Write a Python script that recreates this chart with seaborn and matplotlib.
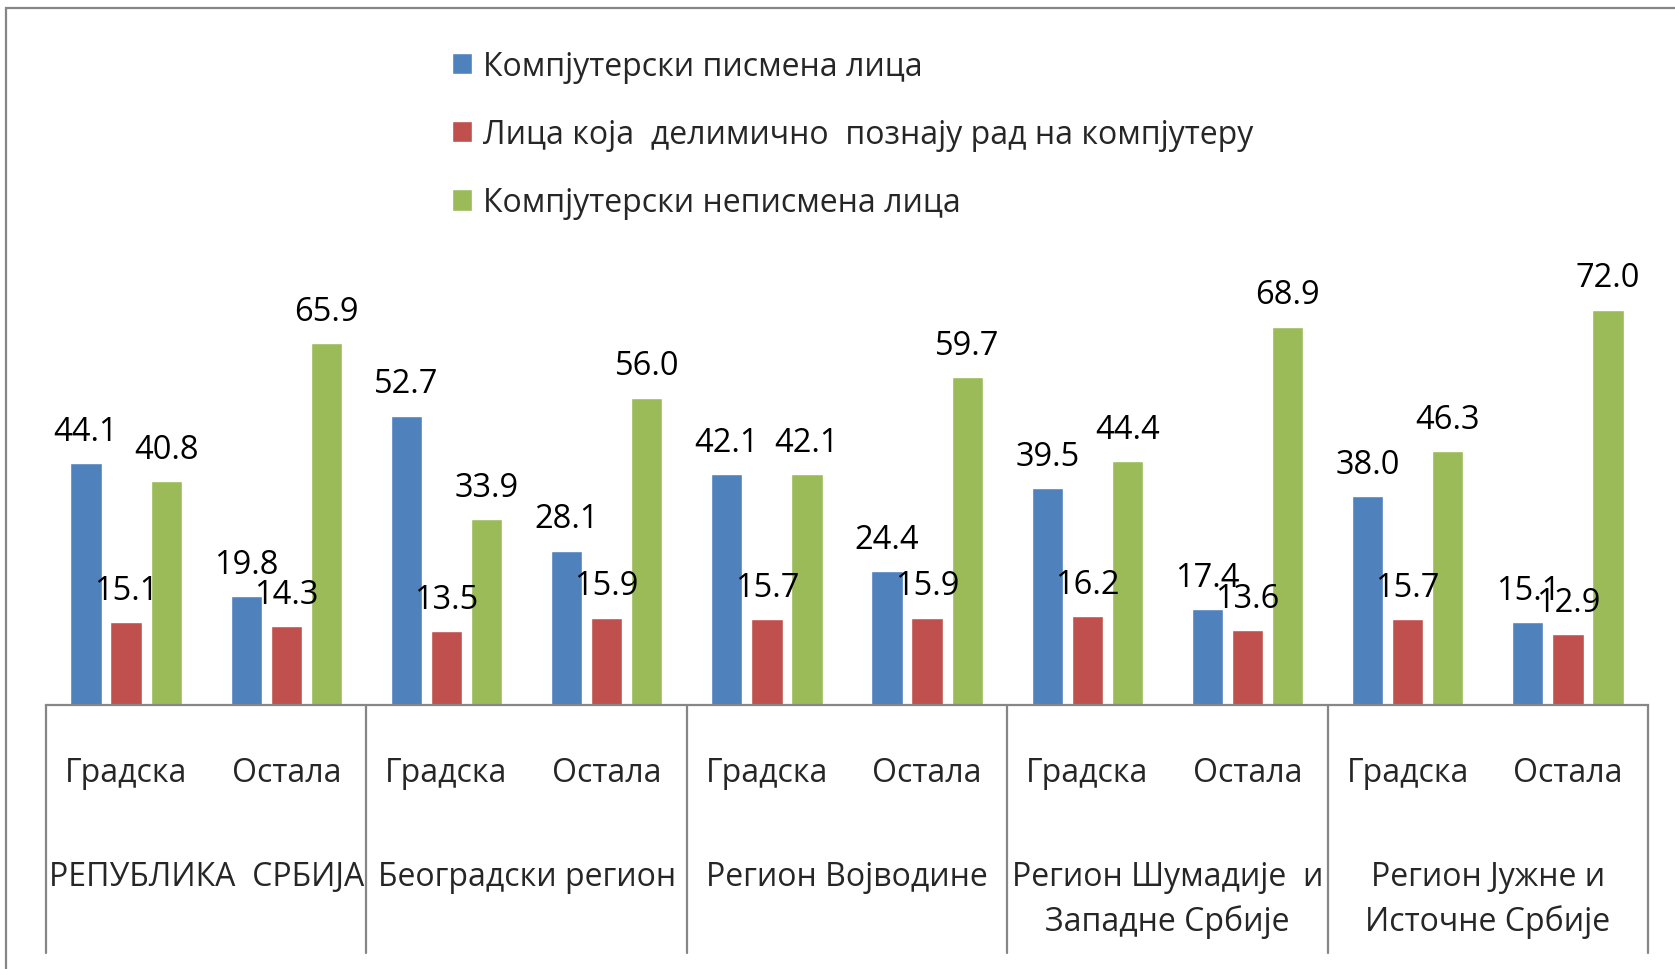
import matplotlib
matplotlib.use("Agg")
import matplotlib.pyplot as plt
import matplotlib.transforms as mtransforms
from matplotlib.patches import Rectangle
import seaborn as sns
import pandas as pd

# ---- data ----
groups = ["РЕПУБЛИКА  СРБИЈА", "Београдски регион", "Регион Војводине",
          "Регион Шумадије  и\nЗападне Србије", "Регион Јужне и\nИсточне Србије"]
types = ["Градска", "Остала"]
series = ["Компјутерски писмена лица",
          "Лица која  делимично  познају рад на компјутеру",
          "Компјутерски неписмена лица"]
literate = [44.1, 19.8, 52.7, 28.1, 42.1, 24.4, 39.5, 17.4, 38.0, 15.1]
partial = [15.1, 14.3, 13.5, 15.9, 15.7, 15.9, 16.2, 13.6, 15.7, 12.9]
illiterate = [40.8, 65.9, 33.9, 56.0, 42.1, 59.7, 44.4, 68.9, 46.3, 72.0]
colors = ["#4F81BD", "#C0504D", "#9BBB59"]

# ---- build long table ----
keys = [f"{g}|{t}" for g in groups for t in types]
rows = []
for s, vals in zip(series, [literate, partial, illiterate]):
    for k, v in zip(keys, vals):
        rows.append({"key": k, "series": s, "value": v})
df = pd.DataFrame(rows)

sns.set_theme(style="white")
plt.rcParams["font.family"] = ["Open Sans", "DejaVu Sans"]

fig = plt.figure(figsize=(16.75, 9.70), dpi=100)
ax = fig.add_axes([46 / 1675, 264 / 970, 1602 / 1675, 677 / 970])

sns.barplot(data=df, x="key", y="value", hue="series", order=keys,
            hue_order=series, palette=dict(zip(series, colors)),
            width=0.75, gap=0.22, errorbar=None, ax=ax, saturation=1)

ax.set_ylim(0, 123.3)
ax.set_xlim(-0.5, len(keys) - 0.5)
ax.set_xlabel("")
ax.set_ylabel("")
ax.set_yticks([])
for sp in ["top", "right", "left"]:
    ax.spines[sp].set_visible(False)
ax.spines["bottom"].set_color("#868686")
ax.spines["bottom"].set_linewidth(1.6)

# value labels
for cont in ax.containers:
    ax.bar_label(cont, fmt="%.1f", padding=11, fontsize=23.5, color="black")

# category tick labels
ax.set_xticks(range(len(keys)))
ax.set_xticklabels([t for g in groups for t in types], fontsize=23)
ax.tick_params(axis="x", length=0, pad=36.5)

# group dividers and labels
trans = mtransforms.blended_transform_factory(ax.transData, ax.transAxes)
n_t = len(types)
for i in range(len(groups) + 1):
    x = i * n_t - 0.5
    ax.plot([x, x], [0, -0.366], transform=trans, color="#868686",
            lw=1.6, clip_on=False)
for i, g in enumerate(groups):
    cx = i * n_t + (n_t - 1) / 2
    ax.text(cx, -0.229, g, transform=trans, ha="center", va="top",
            fontsize=23, linespacing=1.42)

# legend
handles, labels = ax.get_legend_handles_labels()
ax.legend(handles, labels, loc="upper left",
          bbox_to_anchor=(452 / 1675, 1 - 51 / 970),
          bbox_transform=fig.transFigure, frameon=False, fontsize=23,
          handlelength=0.64, handleheight=0.64, handletextpad=0.33,
          labelspacing=1.1, borderpad=0, borderaxespad=0)

# chart-area frame (left and top visible)
fig.patches.append(Rectangle((5.5 / 1675, -0.1), 1.2, 0.1 + 1 - 9 / 970,
                             transform=fig.transFigure, fill=False,
                             edgecolor="#868686", lw=1.6, zorder=0))

fig.savefig("out.png", dpi=100)
